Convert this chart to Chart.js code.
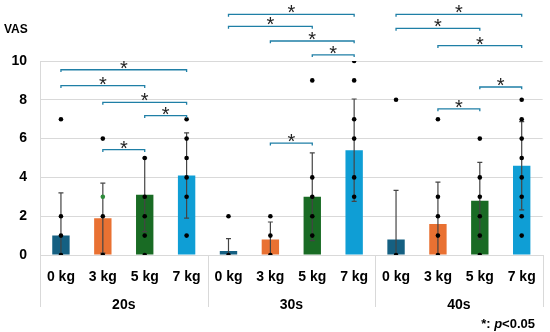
<!DOCTYPE html>
<html><head><meta charset="utf-8">
<script src="https://cdn.jsdelivr.net/npm/chart.js@4.4.0/dist/chart.umd.min.js"></script>
<style>html,body{margin:0;padding:0;background:#fff}</style>
</head><body>
<canvas id="c" width="550" height="332"></canvas>
<script>
// ---- data ----
const groups = ['20s', '30s', '40s'];
const loads = ['0 kg', '3 kg', '5 kg', '7 kg'];
const categories = [...loads, ...loads, ...loads];
const barColors = ['#156082', '#E97132', '#196B24', '#0F9ED5'];
const means = [1.0, 1.9, 3.1, 4.1, 0.2, 0.8, 3.0, 5.4, 0.8, 1.6, 2.8, 4.6];
const sds = [2.2, 1.8, 1.9, 2.2, 0.64, 0.9, 2.26, 2.64, 2.53, 2.16, 1.97, 2.27];
const individual = [
  [0, 1, 2, 7], [0, 2, 3, 6], [0, 1, 2, 3, 5], [1, 3, 4, 5, 6, 7],
  [0, 2], [0, 1, 2], [1, 2, 3, 4, 9], [3, 4, 6, 7, 9, 10],
  [0, 8], [0, 1, 2, 3, 7], [0, 1, 2, 3, 4, 6], [1, 2, 3, 4, 5, 6, 7, 8]
];
const bracketFrom = [0, 0, 1, 2, 1, 4, 4, 5, 6, 5, 8, 8, 9, 10, 9];
const bracketTo   = [3, 2, 3, 3, 2, 7, 6, 7, 7, 6, 11, 10, 11, 11, 10];
const bracketY    = [9.55, 8.73, 7.87, 7.18, 5.43, 12.4, 11.78, 11.03, 10.32, 5.77, 12.4, 11.68, 10.79, 8.66, 7.53];
const yTicks = [0, 2, 4, 6, 8, 10];

// ---- derived datasets ----
const barData = means.map((m, i) => ({x: i, y: m}));
const errData = [];
means.forEach((m, i) => {
  errData.push({x: i, y: m - sds[i]}, {x: i, y: m + sds[i]}, {x: i, y: null});
});
const dotData = [];
individual.forEach((vals, i) => vals.forEach(v => dotData.push({x: i, y: v})));
const brData = [];
const tick = 0.12;
bracketFrom.forEach((a, k) => {
  const b = bracketTo[k], v = bracketY[k];
  brData.push({x: a, y: v - tick}, {x: a, y: v}, {x: b, y: v}, {x: b, y: v - tick}, {x: a, y: null});
});

const FONT = '"Liberation Sans", Arial, sans-serif';

const overlay = {
  id: 'overlay',
  afterDatasetsDraw(chart) {
    const ctx = chart.ctx, xl = chart.scales.xl, y = chart.scales.y;
    ctx.save();
    ctx.fillStyle = '#222';
    ctx.font = '20px ' + FONT;
    ctx.textAlign = 'center';
    ctx.textBaseline = 'alphabetic';
    bracketFrom.forEach((a, k) => {
      const cx = (xl.getPixelForValue(a) + xl.getPixelForValue(bracketTo[k])) / 2;
      ctx.fillText('*', cx, y.getPixelForValue(bracketY[k]) + 5);
    });
    ctx.restore();
  },
  afterDraw(chart) {
    const ctx = chart.ctx, x = chart.scales.x, xl = chart.scales.xl, x2 = chart.scales.x2;
    ctx.save();
    ctx.strokeStyle = '#d9d9d9';
    ctx.lineWidth = 1;
    const bx = [x.left, xl.getPixelForValue(3.5), xl.getPixelForValue(7.5), x.right];
    bx.forEach(px => {
      const p = Math.round(px) + 0.5;
      ctx.beginPath(); ctx.moveTo(p, x.top); ctx.lineTo(p, x2.bottom - 3); ctx.stroke();
    });
    // VAS label
    ctx.fillStyle = '#000';
    ctx.font = 'bold 12px ' + FONT;
    ctx.textAlign = 'left';
    ctx.textBaseline = 'alphabetic';
    ctx.fillText('VAS', 4, 33);
    // footnote
    const parts = [['bold ', '*: '], ['italic bold ', 'p'], ['bold ', '<0.05']];
    let widths = parts.map(p => { ctx.font = p[0] + '13px ' + FONT; return ctx.measureText(p[1]).width; });
    let xx = 535 - widths.reduce((s, w) => s + w, 0);
    parts.forEach((p, i) => { ctx.font = p[0] + '13px ' + FONT; ctx.fillText(p[1], xx, 328); xx += widths[i]; });
    ctx.restore();
  }
};

new Chart(document.getElementById('c'), {
  type: 'bar',
  data: {
    labels: categories,
    datasets: [
      {
        type: 'line', label: 'brackets', data: brData, xAxisID: 'xl',
        borderColor: '#1F7FA6', borderWidth: 1.3, pointRadius: 0, spanGaps: false,
        clip: false, order: 0, tension: 0
      },
      {
        type: 'scatter', label: 'individual', data: dotData, xAxisID: 'xl',
        pointRadius: 2.3, pointBorderWidth: 0,
        pointBackgroundColor: ctx => (ctx.raw && ctx.raw.x === 1 && ctx.raw.y === 3) ? '#2E8B3A' : '#000',
        order: 1
      },
      {
        type: 'line', label: 'sd', data: errData, xAxisID: 'xl',
        borderColor: '#444', borderWidth: 1.2, spanGaps: false,
        pointStyle: 'line', pointRadius: 2.5, pointBorderColor: '#444', pointBorderWidth: 1.2,
        order: 2
      },
      {
        type: 'bar', label: 'mean', data: barData, xAxisID: 'xl',
        backgroundColor: means.map((_, i) => barColors[i % 4]),
        grouping: false,
        barPercentage: 0.415, categoryPercentage: 1.0, order: 3
      }
    ]
  },
  options: {
    responsive: false,
    animation: false,
    events: [],
    layout: {padding: {top: 61, right: 7, left: 0, bottom: 22}},
    plugins: {legend: {display: false}, tooltip: {enabled: false}, title: {display: false}},
    scales: {
      x: {
        type: 'category', position: 'bottom', offset: true,
        afterFit(s) { s.height = 31; },
        grid: {display: false, drawTicks: false, tickLength: 0, offset: true},
        border: {display: true, color: '#d9d9d9'},
        ticks: {color: '#000', font: {family: FONT, size: 14, weight: 'bold'}, padding: 14, maxRotation: 0, autoSkip: false}
      },
      x2: {
        type: 'category', position: 'bottom', labels: groups, offset: true,
        afterFit(s) { s.height = 24; },
        grid: {display: false, drawTicks: false, tickLength: 0},
        border: {display: false},
        ticks: {color: '#000', font: {family: FONT, size: 14, weight: 'bold'}, padding: 11, maxRotation: 0}
      },
      xl: {
        type: 'linear', display: false, min: -0.5, max: 11.5, offset: false, bounds: 'data',
        grid: {offset: false}
      },
      y: {
        min: 0, max: 10,
        afterFit(s) { s.width = 40; },
        afterBuildTicks(s) { s.ticks = yTicks.map(v => ({value: v})); },
        grid: {color: '#d9d9d9', drawTicks: false, tickLength: 0},
        border: {display: true, color: '#d9d9d9'},
        ticks: {color: '#000', font: {family: FONT, size: 14, weight: 'bold'}, padding: 13}
      }
    }
  },
  plugins: [overlay]
});
</script>
</body></html>
